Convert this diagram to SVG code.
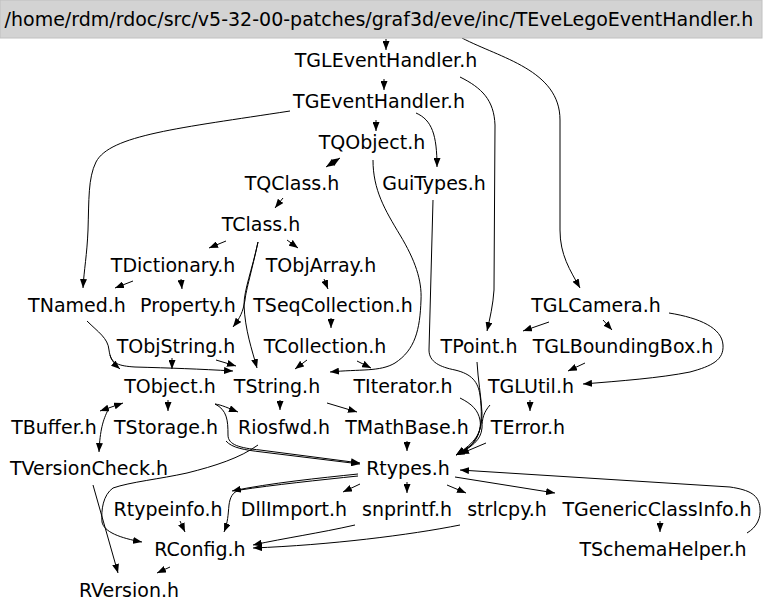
<svg xmlns="http://www.w3.org/2000/svg" width="768" height="611" viewBox="0 0 768 611">
<style>
text{font-family:"DejaVu Sans","Liberation Sans",sans-serif;font-size:19px;text-anchor:middle;fill:#000}
.e{fill:none;stroke:#000;stroke-width:1;marker-end:url(#a)}
.d{marker-start:url(#a)}
</style>
<defs>
<marker id="a" viewBox="0 0 9 7" refX="9" refY="3.5" markerWidth="9" markerHeight="7" markerUnits="userSpaceOnUse" orient="auto-start-reverse"><path d="M0,0L9,3.5L0,7z" fill="#000"/></marker>
</defs>
<rect width="768" height="611" fill="#fff"/>
<g id="edges">
<path class="e" d="M386,39L386,50"/>
<path class="e" d="M462,38C500,58 560,70 560,120L560,230C560,255 570,270 580,288"/>
<path class="e" d="M384,79L384,90"/>
<path class="e" d="M460,77C482,88 494,100 495,125L494,290C493,305 490,318 487,331"/>
<path class="e" d="M376,120L376,131"/>
<path class="e" d="M416,113C432,120 437,135 437,167"/>
<path class="e" d="M290,111C180,128 110,135 96,162C88,178 89,200 88,230C87,255 84,270 83,288"/>
<path class="e d" d="M326,167L340,158"/>
<path class="e" d="M283,198L275,208"/>
<path class="e" d="M226,241L209,248"/>
<path class="e" d="M287,240L298,248"/>
<path class="e" d="M258,242C252,270 244,290 244,305C245,330 252,350 257,368"/>
<path class="e" d="M258,242C252,270 246,290 245,300C243,312 240,318 233,327"/>
<path class="e" d="M133,281L115,288"/>
<path class="e" d="M181,279L182,289"/>
<path class="e" d="M324,279L328,289"/>
<path class="e" d="M331,318L331,328"/>
<path class="e" d="M373,160C373,190 385,210 400,235C415,260 422,280 421,300C420,330 415,350 395,363C380,372 360,369 330,372"/>
<path class="e" d="M87,321C98,332 108,338 109,350C110,358 113,363 120,369"/>
<path class="e" d="M110,355C112,363 118,366 135,367C170,368 200,369 233,371"/>
<path class="e" d="M172,358L172,369"/>
<path class="e" d="M216,360L236,366"/>
<path class="e" d="M307,360L295,369"/>
<path class="e" d="M357,361L371,368"/>
<path class="e" d="M549,322L523,331"/>
<path class="e" d="M603,320L612,330"/>
<path class="e" d="M669,313C700,318 722,328 723,345C724,360 712,366 690,372C660,378 620,381 583,384"/>
<path class="e" d="M585,363L568,371"/>
<path class="e" d="M530,400L530,411"/>
<path class="e" d="M168,400L168,411"/>
<path class="e d" d="M100,411L123,403"/>
<path class="e" d="M108,410C103,420 100,430 99,452"/>
<path class="e" d="M215,404C222,405 228,408 238,412"/>
<path class="e" d="M215,404C227,410 228,420 228,435C228,445 240,448 260,450L360,463"/>
<path class="e" d="M226,441C232,448 245,450 262,452L360,464"/>
<path class="e" d="M280,400L280,410"/>
<path class="e" d="M327,403L357,412"/>
<path class="e" d="M407,441L407,451"/>
<path class="e" d="M433,200L429,350C429,362 440,367 455,370C472,374 478,382 480,395C482,410 482,425 478,435C474,445 468,449 456,455"/>
<path class="e" d="M477,362C478,380 481,395 482,413C482,428 478,438 470,446L456,455"/>
<path class="e" d="M460,398C472,404 478,410 480,420C482,432 476,442 456,455"/>
<path class="e" d="M490,405C484,412 482,418 482,428C481,440 472,447 456,455"/>
<path class="e" d="M486,443L460,454"/>
<path class="e" d="M258,445C240,458 215,466 187,473C160,479 130,482 113,488C103,495 101,510 102,522C104,532 120,538 142,542"/>
<path class="e" d="M93,485L118,573"/>
<path class="e" d="M170,567L157,573"/>
<path class="e" d="M358,474C320,478 270,483 232,491"/>
<path class="e" d="M358,476C320,480 272,485 240,490C232,492 230,498 229,505C228,515 228,522 224,532"/>
<path class="e" d="M360,484L343,492"/>
<path class="e" d="M407,482L407,493"/>
<path class="e" d="M447,485L466,493"/>
<path class="e" d="M455,477L555,493"/>
<path class="e" d="M747,533C757,527 761,518 760,508C759,495 750,490 730,487L460,470"/>
<path class="e" d="M660,521L660,532"/>
<path class="e" d="M180,521L185,532"/>
<path class="e" d="M355,525C320,533 285,538 253,545"/>
<path class="e" d="M460,525C410,535 330,545 253,548"/>
</g>
<g id="n-root"><rect x="0" y="0" width="762" height="38" fill="#d3d3d3" stroke="#c0c0c0"/><text x="379" y="26">/home/rdm/rdoc/src/v5-32-00-patches/graf3d/eve/inc/TEveLegoEventHandler.h</text></g>
<g id="n-TGLEventHandler"><text x="386" y="67">TGLEventHandler.h</text></g>
<g id="n-TGEventHandler"><text x="379" y="108">TGEventHandler.h</text></g>
<g id="n-TQObject"><text x="372" y="149">TQObject.h</text></g>
<g id="n-TQClass"><text x="292" y="190">TQClass.h</text></g>
<g id="n-GuiTypes"><text x="434" y="190">GuiTypes.h</text></g>
<g id="n-TClass"><text x="261" y="231">TClass.h</text></g>
<g id="n-TDictionary"><text x="173" y="272">TDictionary.h</text></g>
<g id="n-TObjArray"><text x="321" y="272">TObjArray.h</text></g>
<g id="n-TNamed"><text x="77" y="312">TNamed.h</text></g>
<g id="n-Property"><text x="188" y="312">Property.h</text></g>
<g id="n-TSeqCollection"><text x="333" y="312">TSeqCollection.h</text></g>
<g id="n-TGLCamera"><text x="596" y="312">TGLCamera.h</text></g>
<g id="n-TObjString"><text x="176" y="353">TObjString.h</text></g>
<g id="n-TCollection"><text x="325" y="353">TCollection.h</text></g>
<g id="n-TPoint"><text x="479" y="353">TPoint.h</text></g>
<g id="n-TGLBoundingBox"><text x="623" y="353">TGLBoundingBox.h</text></g>
<g id="n-TObject"><text x="170" y="393">TObject.h</text></g>
<g id="n-TString"><text x="277" y="393">TString.h</text></g>
<g id="n-TIterator"><text x="403" y="393">TIterator.h</text></g>
<g id="n-TGLUtil"><text x="531" y="393">TGLUtil.h</text></g>
<g id="n-TBuffer"><text x="54" y="434">TBuffer.h</text></g>
<g id="n-TStorage"><text x="166" y="434">TStorage.h</text></g>
<g id="n-Riosfwd"><text x="284" y="434">Riosfwd.h</text></g>
<g id="n-TMathBase"><text x="407" y="434">TMathBase.h</text></g>
<g id="n-TError"><text x="528" y="434">TError.h</text></g>
<g id="n-TVersionCheck"><text x="89" y="475">TVersionCheck.h</text></g>
<g id="n-Rtypes"><text x="408" y="475">Rtypes.h</text></g>
<g id="n-Rtypeinfo"><text x="168" y="516">Rtypeinfo.h</text></g>
<g id="n-DllImport"><text x="294" y="516">DllImport.h</text></g>
<g id="n-snprintf"><text x="407" y="516">snprintf.h</text></g>
<g id="n-strlcpy"><text x="507" y="516">strlcpy.h</text></g>
<g id="n-TGenericClassInfo"><text x="657" y="516">TGenericClassInfo.h</text></g>
<g id="n-RConfig"><text x="200" y="556">RConfig.h</text></g>
<g id="n-TSchemaHelper"><text x="663" y="556">TSchemaHelper.h</text></g>
<g id="n-RVersion"><text x="129" y="597">RVersion.h</text></g>
</svg>
